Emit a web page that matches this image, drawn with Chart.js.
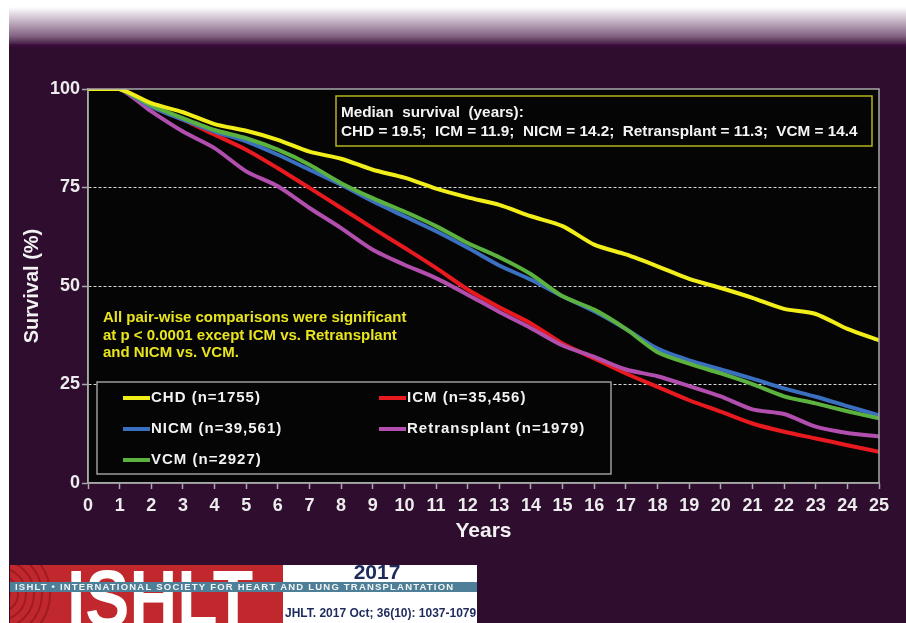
<!DOCTYPE html>
<html>
<head>
<meta charset="utf-8">
<script src="https://cdn.jsdelivr.net/npm/chart.js@4"></script>
<style>
  html, body { margin: 0; padding: 0; background: #fff; }
  #wrap { width: 906px; height: 623px; }
</style>
</head>
<body>
<div id="wrap"><canvas id="survChart" width="906" height="623"></canvas></div>
<script>
// survival (%) by year since transplant
const years = [0,1,2,3,4,5,6,7,8,9,10,11,12,13,14,15,16,17,18,19,20,21,22,23,24,25];
const chd  = [100,100,96.4,94.1,91.1,89.4,87.1,84.1,82.3,79.5,77.5,74.7,72.5,70.6,67.7,65.2,60.5,58.0,55.0,51.8,49.5,47.0,44.2,42.9,39.1,36.2];
const icm  = [100,100,95.5,92.2,88.4,84.6,79.9,74.9,69.8,64.7,59.7,54.6,49.1,44.6,40.5,35.4,31.6,27.8,24.4,21.0,18.1,15.1,13.0,11.3,9.6,7.9];
const nicm = [100,100,95.5,92.2,89.2,86.7,83.3,79.5,75.7,71.5,67.7,63.9,59.7,55.2,51.6,47.4,43.6,39.1,34.1,31.1,28.8,26.5,24.0,21.9,19.5,17.2];
const retx = [100,100,94.3,89.2,85.0,79.1,75.3,69.8,64.7,59.2,55.4,52.0,47.8,43.4,39.3,34.9,32.0,28.8,27.1,24.6,22.0,18.7,17.5,14.3,12.7,11.8];
const vcm  = [100,100,95.8,92.6,89.6,87.5,84.6,80.8,76.1,72.3,68.9,65.2,60.9,57.3,53.0,47.4,44.0,39.1,33.2,30.3,27.8,25.1,22.0,20.2,18.2,16.4];

const seriesLabels = ["CHD (n=1755)", "ICM (n=35,456)", "NICM (n=39,561)", "Retransplant (n=1979)", "VCM (n=2927)"];
const seriesColors = ["#f2ee1a", "#e8191f", "#3b6fc0", "#b24fae", "#5cb23f"];
const yTicks = [0, 25, 50, 75, 100];

const medianLines = [
  "Median  survival  (years):",
  "CHD = 19.5;  ICM = 11.9;  NICM = 14.2;  Retransplant = 11.3;  VCM = 14.4"
];
const noteLines = [
  "All pair-wise comparisons were significant",
  "at p < 0.0001 except ICM vs. Retransplant",
  "and NICM vs. VCM."
];

const SANS = "'Liberation Sans', Arial, sans-serif";
const PURPLE = "#2e0d2e";

const slideBackground = {
  id: 'slideBackground',
  beforeDraw(chart) {
    const ctx = chart.ctx;
    const { left, top, right, bottom } = chart.chartArea;
    ctx.save();
    ctx.fillStyle = '#ffffff';
    ctx.fillRect(0, 0, chart.width, chart.height);
    ctx.fillStyle = PURPLE;
    ctx.fillRect(9, 48, chart.width - 9, chart.height - 48);
    const g = ctx.createLinearGradient(0, 7, 0, 48);
    g.addColorStop(0, '#ffffff');
    g.addColorStop(0.35, '#c3b2c3');
    g.addColorStop(0.7, '#856585');
    g.addColorStop(0.88, '#4d2a4d');
    g.addColorStop(0.93, '#3e0a3e');
    g.addColorStop(1, PURPLE);
    ctx.fillStyle = g;
    ctx.fillRect(9, 7, chart.width - 9, 41);
    ctx.fillStyle = '#050505';
    ctx.fillRect(left, top, right - left, bottom - top);
    ctx.restore();
  },
  afterDraw(chart) {
    const ctx = chart.ctx;
    const { left, top, right, bottom } = chart.chartArea;
    ctx.save();
    // plot frame
    ctx.strokeStyle = '#a8a8a8';
    ctx.lineWidth = 1.5;
    ctx.strokeRect(left, top, right - left, bottom - top);

    // legend box
    ctx.fillStyle = '#050505';
    ctx.fillRect(97, 382, 514, 92);
    ctx.strokeStyle = '#9c9c9c';
    ctx.lineWidth = 1.5;
    ctx.strokeRect(97, 382, 514, 92);
    ctx.font = 'bold 15px ' + SANS;
    ctx.letterSpacing = '1px';
    ctx.textBaseline = 'middle';
    ctx.textAlign = 'left';
    const rows = [398, 429, 460];
    const cols = [123, 379];
    chart.data.datasets.forEach((ds, i) => {
      const x = cols[i % 2], y = rows[Math.floor(i / 2)];
      ctx.strokeStyle = ds.borderColor;
      ctx.lineWidth = 4;
      ctx.beginPath();
      ctx.moveTo(x, y);
      ctx.lineTo(x + 27, y);
      ctx.stroke();
      ctx.fillStyle = '#f2f2f2';
      ctx.fillText(ds.label, x + 28, y);
    });
    ctx.letterSpacing = '0px';

    // median survival box
    ctx.strokeStyle = '#b5b21c';
    ctx.lineWidth = 1.5;
    ctx.strokeRect(336, 96, 536, 50);
    ctx.fillStyle = '#f4f4f4';
    ctx.font = 'bold 15.3px ' + SANS;
    ctx.fillText(medianLines[0], 341, 113);
    ctx.fillText(medianLines[1], 341, 132);

    // significance note
    ctx.fillStyle = '#e8e41e';
    ctx.font = 'bold 15px ' + SANS;
    noteLines.forEach((t, i) => ctx.fillText(t, 103, 318 + i * 17.5));

    // ISHLT banner
    ctx.save();
    ctx.beginPath();
    ctx.rect(10, 565, 273, 58);
    ctx.clip();
    ctx.fillStyle = '#c1282e';
    ctx.fillRect(10, 565, 273, 58);
    ctx.strokeStyle = 'rgba(120,10,15,0.45)';
    ctx.lineWidth = 2;
    for (let r = 10; r <= 50; r += 8) {
      ctx.beginPath();
      ctx.arc(0, 594, r, -Math.PI / 2, Math.PI / 2);
      ctx.stroke();
    }
    ctx.fillStyle = '#ffffff';
    ctx.font = 'bold 80px ' + SANS;
    ctx.textBaseline = 'alphabetic';
    const w = ctx.measureText('ISHLT').width;
    ctx.translate(67, 626);
    ctx.scale(186 / w, 1);
    ctx.fillText('ISHLT', 0, 0);
    ctx.restore();

    ctx.fillStyle = '#ffffff';
    ctx.fillRect(283, 565, 194, 58);
    ctx.fillStyle = '#4e7f98';
    ctx.fillRect(10, 582, 467, 10);
    ctx.fillStyle = '#f4f4f4';
    ctx.font = 'bold 9.5px ' + SANS;
    ctx.letterSpacing = '1.2px';
    ctx.textBaseline = 'middle';
    ctx.textAlign = 'left';
    ctx.fillText('ISHLT \u2022 INTERNATIONAL SOCIETY FOR HEART AND LUNG TRANSPLANTATION', 15, 587.5);
    ctx.letterSpacing = '0px';
    ctx.fillStyle = '#1d2a5c';
    ctx.font = 'bold 21px ' + SANS;
    ctx.textAlign = 'center';
    ctx.fillText('2017', 377, 573);
    ctx.font = 'bold 12px ' + SANS;
    ctx.textAlign = 'left';
    ctx.fillText('JHLT. 2017 Oct; 36(10): 1037-1079', 285, 614);
    ctx.restore();
  }
};

const datasets = [chd, icm, nicm, retx, vcm].map((vals, i) => ({
  label: seriesLabels[i],
  data: vals,
  borderColor: seriesColors[i],
  backgroundColor: seriesColors[i],
  borderWidth: 4,
  pointRadius: 0,
  tension: 0.25,
  fill: false
}));
// draw order: yellow on top, then green over blue
datasets[0].order = 0;
datasets[4].order = 1;
datasets[2].order = 2;
datasets[3].order = 3;
datasets[1].order = 4;

new Chart(document.getElementById('survChart').getContext('2d'), {
  type: 'line',
  data: { labels: years, datasets: datasets },
  options: {
    responsive: false,
    animation: false,
    layout: { padding: { top: 89, right: 27, left: 0, bottom: 0 } },
    plugins: {
      legend: { display: false },
      tooltip: { enabled: false }
    },
    scales: {
      x: {
        type: 'linear',
        min: 0,
        max: 25,
        afterFit: s => { s.height = 140; },
        ticks: {
          stepSize: 1,
          color: '#ececec',
          padding: 6,
          maxRotation: 0,
          autoSkip: false,
          font: { family: SANS, size: 18, weight: 'bold' }
        },
        grid: {
          drawOnChartArea: false,
          drawTicks: true,
          tickLength: 6,
          tickColor: '#a8a8a8',
          tickWidth: 1.5
        },
        border: { color: '#a8a8a8', width: 1.5 },
        title: {
          display: true,
          text: 'Years',
          color: '#f2f2f2',
          padding: { top: 0, bottom: 79 },
          font: { family: SANS, size: 21, weight: 'bold' }
        }
      },
      y: {
        min: 0,
        max: 100,
        afterFit: s => { s.width = 88; },
        afterBuildTicks: s => { s.ticks = yTicks.map(v => ({ value: v })); },
        ticks: {
          color: '#ececec',
          padding: 2,
          font: { family: SANS, size: 18, weight: 'bold' }
        },
        grid: {
          color: c => (c.tick && (c.tick.value === 0 || c.tick.value === 100)) ? 'rgba(0,0,0,0)' : '#d8d8d8',
          lineWidth: 1,
          tickBorderDash: [],
          tickLength: 6,
          tickColor: '#a8a8a8',
          tickWidth: 1.5
        },
        border: { color: '#a8a8a8', width: 1.5, dash: [3, 2] },
        title: {
          display: true,
          text: 'Survival (%)',
          color: '#f2f2f2',
          padding: { top: 20, bottom: 0 },
          font: { family: SANS, size: 20, weight: 'bold' }
        }
      }
    }
  },
  plugins: [slideBackground]
});
</script>
</body>
</html>
